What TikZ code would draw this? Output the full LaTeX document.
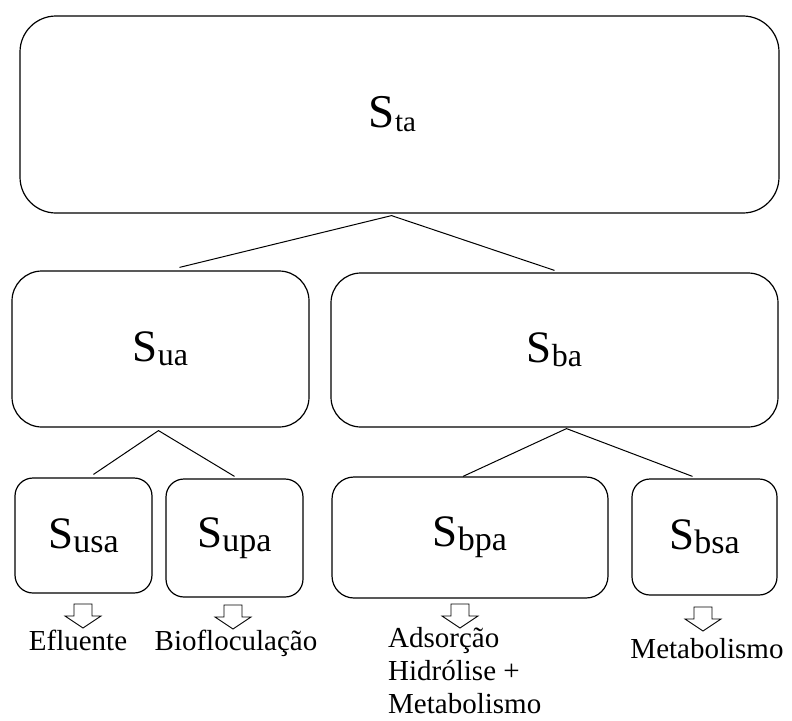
\documentclass[tikz,border=0pt]{standalone}
\usepackage{fontspec}
\setmainfont{Liberation Serif}
\newcommand\Slab[3]{{\fontsize{#1}{#1}\selectfont S}\raisebox{-4pt}{\fontsize{#2}{#2}\selectfont #3}}
\begin{document}
\begin{tikzpicture}[x=1pt,y=-1pt,
  box/.style={draw, line width=1.2pt, rounded corners=#1, inner sep=0pt, align=center},
  conn/.style={draw, line width=1pt},
  blockarrow/.style={draw, line width=0.9pt, fill=white, line join=miter},
  lab/.style={font=\fontsize{29}{33}\selectfont, inner sep=0pt}]
\useasboundingbox (0,0) rectangle (792,720);
% boxes
\node[box=36pt, minimum width=759pt, minimum height=197pt] (ta) at (399.5,114.5) {\Slab{47}{29}{ta}\hspace*{14pt}};
\node[box=30pt, minimum width=297pt, minimum height=156pt] (ua) at (160.5,349) {\Slab{45}{32}{ua}};
\node[box=30pt, minimum width=447pt, minimum height=154pt] (ba) at (554.5,350) {\Slab{45}{32}{ba}};
\node[box=18pt, minimum width=137pt, minimum height=115pt] (usa) at (83.5,535.5) {\Slab{45}{34}{usa}};
\node[box=18pt, minimum width=137pt, minimum height=118pt] (upa) at (234.5,538) {\Slab{45}{34}{upa}};
\node[box=22pt, minimum width=276pt, minimum height=121pt] (bpa) at (470,537.5) {\Slab{45}{34}{bpa}};
\node[box=18pt, minimum width=145pt, minimum height=116pt] (bsa) at (704.5,537) {\Slab{45}{34}{bsa}};
% connectors
\coordinate (p0) at ([xshift=-8pt,yshift=-2pt]ta.south);
\draw[conn] ([xshift=19pt,yshift=3pt]ua.north) -- (p0) -- ([yshift=2pt]ba.north);
\coordinate (p1) at ([xshift=-2pt,yshift=-3pt]ua.south);
\draw[conn] ([xshift=10pt,yshift=3pt]usa.north) -- (p1) -- ([yshift=2pt]upa.north);
\coordinate (p2) at ([xshift=12pt,yshift=-1pt]ba.south);
\draw[conn] ([xshift=-7pt]bpa.north) -- (p2) -- ([xshift=-12pt,yshift=2pt]bsa.north);
% block arrows
\foreach \n/\x/\y in {a1/83/604, a2/233/605, a3/460/604, a4/703/607}{
  \coordinate (\n) at (\x,\y);
  \draw[blockarrow] (\n) ++(-9,0) -- ++(18,0) -- ++(0,12) -- ++(9,0) -- ++(-18,12) -- ++(-18,-12) -- ++(9,0) -- cycle;
}
% labels
\node[lab, anchor=base] (l1) at (78,650) {Efluente};
\node[lab, anchor=base] (l2) at (236,650) {Biofloculação};
\node[lab, anchor=base west, align=left] (l3) at (388,713) {Adsorção\\Hidrólise +\\Metabolismo};
\node[lab, anchor=base] (l4) at (707,658) {Metabolismo};
\end{tikzpicture}
\end{document}
